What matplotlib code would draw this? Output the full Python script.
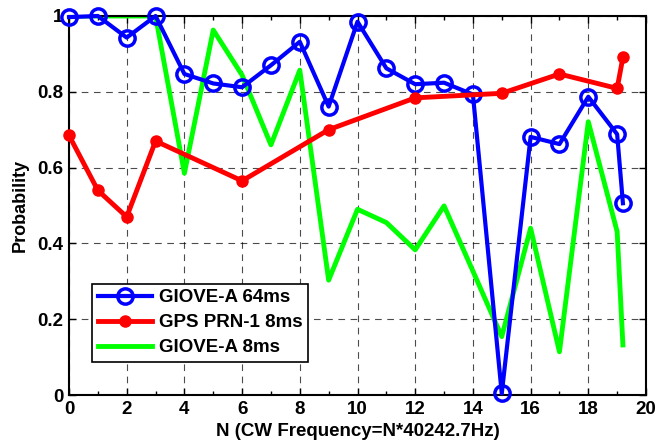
import matplotlib
matplotlib.use("Agg")
import matplotlib.pyplot as plt
from matplotlib.ticker import MultipleLocator

# GIOVE-A 64ms
blue_n = [0, 1, 2, 3, 4, 5, 6, 7, 8, 9, 10, 11, 12, 13, 14, 15, 16, 17, 18, 19, 19.2]
blue_p = [0.997, 1.0, 0.943, 1.0, 0.847, 0.822, 0.812, 0.870, 0.932, 0.761, 0.985,
          0.862, 0.820, 0.824, 0.793, 0.004, 0.681, 0.662, 0.787, 0.688, 0.506]

# GPS PRN-1 8ms
red_n = [0, 1, 2, 3, 6, 9, 12, 15, 17, 19, 19.2]
red_p = [0.685, 0.54, 0.47, 0.67, 0.565, 0.70, 0.784, 0.796, 0.847, 0.809, 0.891]

# GIOVE-A 8ms
green_n = [0, 1, 2, 3, 4, 5, 6, 7, 8, 9, 10, 11, 12, 13, 14, 15, 16, 17, 18, 19, 19.2]
green_p = [1.0, 1.0, 1.0, 1.0, 0.585, 0.963, 0.844, 0.66, 0.857, 0.303, 0.49,
           0.455, 0.383, 0.499, 0.327, 0.154, 0.44, 0.114, 0.721, 0.431, 0.132]

y_ticks = [0, 0.2, 0.4, 0.6, 0.8, 1.0]
y_tick_labels = ["0", "0.2", "0.4", "0.6", "0.8", "1"]

plt.rcParams.update({
    "font.family": "Liberation Sans",
    "font.weight": "bold",
    "font.size": 13.5,
})

fig = plt.figure(figsize=(6.58, 4.45), dpi=100)
ax = fig.add_axes([69 / 658, 1 - 395 / 445, (646 - 69) / 658, (395 - 16) / 445])

ax.plot(blue_n, blue_p, "-o", color="#0000ff", lw=3, ms=11, mfc="none", mew=2.5,
        label="GIOVE-A 64ms", zorder=3, clip_on=False)
ax.plot(red_n, red_p, "-o", color="#ff0000", lw=3.5, ms=8, mfc="#ff0000",
        label="GPS PRN-1 8ms", zorder=3, clip_on=False)
ax.plot(green_n, green_p, "-", color="#00ff00", lw=3.5, label="GIOVE-A 8ms", zorder=2)

ax.set_xlim(0, 20)
ax.set_ylim(0, 1)
ax.xaxis.set_major_locator(MultipleLocator(2))
ax.xaxis.set_minor_locator(MultipleLocator(1))
ax.set_yticks(y_ticks)
ax.set_yticklabels(y_tick_labels)
ax.tick_params(which="both", direction="in", top=True, right=True, width=1)
ax.tick_params(which="major", length=5, pad=4)
ax.tick_params(which="minor", length=3)
ax.grid(True, which="major", color="black", linestyle=(0, (6, 5)), lw=0.8, alpha=0.7)
for s in ax.spines.values():
    s.set_linewidth(1.5)

ax.set_xlabel("N (CW Frequency=N*40242.7Hz)", fontweight="bold", labelpad=4)
ax.set_ylabel("Probability", fontweight="bold", fontsize=13, labelpad=6)

leg = ax.legend(loc="lower left", bbox_to_anchor=(0.04, 0.087), fancybox=False,
                edgecolor="black", framealpha=1, borderpad=0.3, labelspacing=0.42,
                handlelength=2.9, handletextpad=0.35, borderaxespad=0,
                prop={"weight": "bold", "size": 13.5})
leg.get_frame().set_linewidth(1.2)

fig.savefig("out.png", dpi=100)
